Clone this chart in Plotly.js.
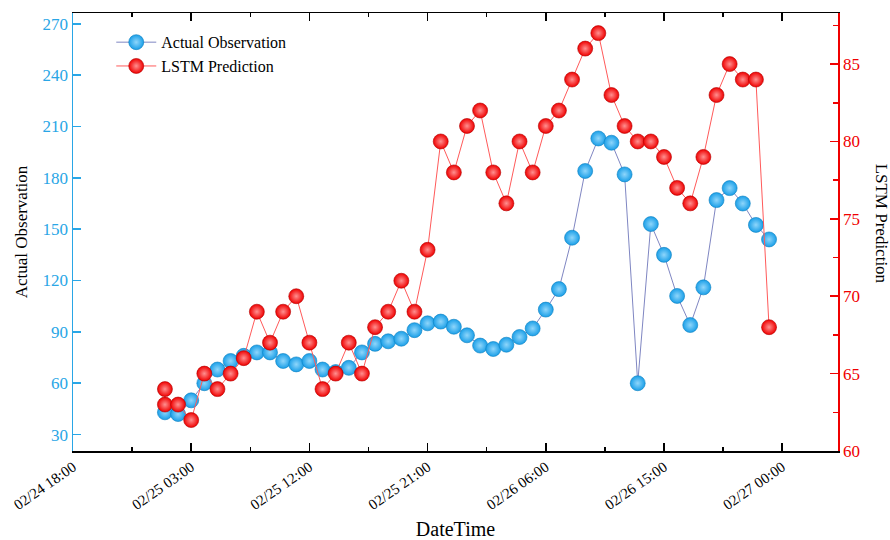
<!DOCTYPE html>
<html>
<head>
<meta charset="utf-8">
<script src="https://cdn.plot.ly/plotly-3.0.1.min.js"></script>
<style>html,body{margin:0;padding:0;background:#fff;}#chart{width:890px;height:540px;}</style>
</head>
<body>
<div id="chart"></div>
<script>
// Hourly timestamps (02/25 01:00 .. 02/26 23:00)
const obsTimes = [
  '2024-02-25 01:00','2024-02-25 02:00','2024-02-25 03:00','2024-02-25 04:00','2024-02-25 05:00',
  '2024-02-25 06:00','2024-02-25 07:00','2024-02-25 08:00','2024-02-25 09:00','2024-02-25 10:00',
  '2024-02-25 11:00','2024-02-25 12:00','2024-02-25 13:00','2024-02-25 14:00','2024-02-25 15:00',
  '2024-02-25 16:00','2024-02-25 17:00','2024-02-25 18:00','2024-02-25 19:00','2024-02-25 20:00',
  '2024-02-25 21:00','2024-02-25 22:00','2024-02-25 23:00','2024-02-26 00:00','2024-02-26 01:00',
  '2024-02-26 02:00','2024-02-26 03:00','2024-02-26 04:00','2024-02-26 05:00','2024-02-26 06:00',
  '2024-02-26 07:00','2024-02-26 08:00','2024-02-26 09:00','2024-02-26 10:00','2024-02-26 11:00',
  '2024-02-26 12:00','2024-02-26 13:00','2024-02-26 14:00','2024-02-26 15:00','2024-02-26 16:00',
  '2024-02-26 17:00','2024-02-26 18:00','2024-02-26 19:00','2024-02-26 20:00','2024-02-26 21:00',
  '2024-02-26 22:00','2024-02-26 23:00'
];
const actualObservation = [
  43, 42, 50, 60, 68, 73, 76, 78, 78, 73,
  71, 73, 68, 66.5, 69, 78, 83, 84.5, 86, 91,
  95, 96, 93, 88, 82, 80, 82.5, 87, 92, 103,
  115, 145, 184, 203, 200.5, 182, 60, 153, 135, 111,
  94, 116, 167, 174, 165, 152.5, 144
];
// Prediction series: the first hour carries two values
const predTimes = ['2024-02-25 01:00'].concat(obsTimes);
const lstmPrediction = [
  64, 63, 63, 62, 65, 64, 65, 66, 69, 67, 69,
  70, 67, 64, 65, 67, 65, 68, 69, 71, 69,
  73, 80, 78, 81, 82, 78, 76, 80, 78, 81,
  82, 84, 86, 87, 83, 81, 80, 80, 79, 77,
  76, 79, 83, 85, 84, 84, 68
];

const serif = 'Liberation Serif, Times New Roman, serif';
const blue = '#1a9fe8';
const red = '#f00000';

const traces = [
  {
    x: obsTimes, y: actualObservation, name: 'Actual Observation',
    type: 'scatter', mode: 'lines+markers', yaxis: 'y',
    line: {color: '#7f86c2', width: 1},
    marker: {size: 15, color: blue, line: {color: '#0c7fc0', width: 0.6},
             gradient: {type: 'radial', color: '#8fd6fb'}}
  },
  {
    x: predTimes, y: lstmPrediction, name: 'LSTM Prediction',
    type: 'scatter', mode: 'lines+markers', yaxis: 'y2',
    line: {color: '#ff5a5a', width: 1},
    marker: {size: 15, color: red, line: {color: '#b00000', width: 0.6},
             gradient: {type: 'radial', color: '#ff9090'}}
  }
];

const H = 3600000;
const layout = {
  width: 890, height: 540,
  margin: {l: 73, r: 52, t: 13, b: 89},
  paper_bgcolor: '#fff', plot_bgcolor: '#fff',
  font: {family: serif, size: 16, color: '#000'},
  showlegend: true,
  legend: {x: 0.05, y: 0.972, xanchor: 'left', yanchor: 'top', bgcolor: 'rgba(0,0,0,0)',
           font: {family: serif, size: 16, color: '#000'}, tracegroupgap: 0, itemwidth: 40},
  xaxis: {
    type: 'date', range: ['2024-02-24 18:00', '2024-02-27 04:15'],
    tick0: '2024-02-24 18:00', dtick: 9 * H, tickformat: '%m/%d %H:%M',
    tickangle: -35, ticks: 'inside', ticklen: 8, tickwidth: 1.5, tickcolor: '#000',
    minor: {dtick: 4.5 * H, ticks: 'inside', ticklen: 4, tickwidth: 1.5, tickcolor: '#000', showgrid: false},
    showline: true, linecolor: '#000', linewidth: 1.5, mirror: 'ticks',
    showgrid: false, zeroline: false,
    tickfont: {family: serif, size: 15, color: '#000'},
    title: {text: 'DateTime', font: {family: serif, size: 20, color: '#000'}, standoff: 10}
  },
  yaxis: {
    range: [20.4, 276.3], tick0: 30, dtick: 30,
    ticks: 'inside', ticklen: 8, tickwidth: 1.5, tickcolor: '#29a6e6',
    showline: true, linecolor: '#29a6e6', linewidth: 1.5,
    showgrid: false, zeroline: false,
    tickfont: {family: serif, size: 17, color: '#29a6e6'},
    title: {text: 'Actual Observation', font: {family: serif, size: 17, color: '#000'}, standoff: 10}
  },
  yaxis2: {
    overlaying: 'y', side: 'right', range: [60, 88.3], tick0: 60, dtick: 5,
    ticks: 'inside', ticklen: 8, tickwidth: 1.5, tickcolor: '#f00000',
    minor: {dtick: 2.5, ticks: 'inside', ticklen: 5, tickwidth: 1.5, tickcolor: '#f00000', showgrid: false},
    showline: true, linecolor: '#f00000', linewidth: 1.5,
    showgrid: false, zeroline: false,
    tickfont: {family: serif, size: 17, color: '#f00000'}
  },
  annotations: [{
    text: 'LSTM Prediction', textangle: 90, showarrow: false,
    xref: 'paper', yref: 'paper', x: 1.057, y: 0.52, xanchor: 'center', yanchor: 'middle',
    font: {family: serif, size: 17, color: '#000'}
  }]
};

Plotly.newPlot('chart', traces, layout, {displayModeBar: false, staticPlot: true});
</script>
</body>
</html>
